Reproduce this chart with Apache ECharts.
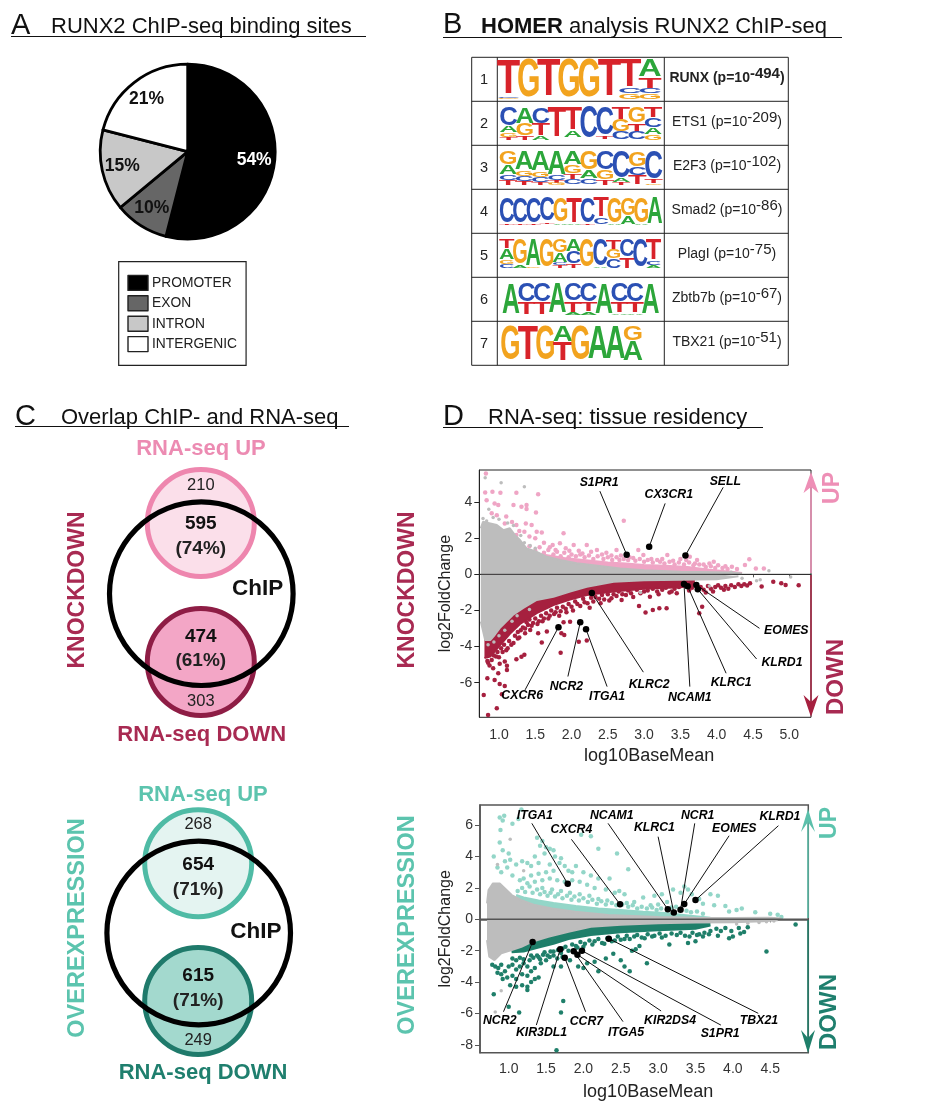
<!DOCTYPE html>
<html><head><meta charset="utf-8">
<style>html,body{margin:0;padding:0;background:#fff}#c{width:927px;height:1109px}</style>
<script src="https://cdn.jsdelivr.net/npm/echarts@6/dist/echarts.min.js"></script>
</head><body><div id="c"></div>
<script>
// ---------- Panel A ----------
const regionNames = ['PROMOTER','EXON','INTRON','INTERGENIC'];
const regionValues = [54,10,15,21];
// ---------- Panel B ----------
const motifFactors = ['RUNX','ETS1','E2F3','Smad2','PlagI','Zbtb7b','TBX21'];
const motifExponents = ['-494','-209','-102','-86','-75','-67','-51'];
const motifs = [
 ['T92 C4 G4','G100','T98','G100','G100','T98','T72 C14 G14','A45 T28 C12 G15'],
 ['C58 A20 G14 T8','A52 G36 T12','C52 T36 A12','T96','T72 A22','C100','C90 T8','T38 G38 C24','G50 T26 C24','T32 C30 A22 G16'],
 ['G40 A30 C16 T14','A58 G16 C14 T12','A62 G16 C14 T8','A72 C14 T8 G6','A42 G26 T16 C16','G56 A26 C18','C56 G30 T14','C82 A10 T8','G46 C26 T28','C86 T10 G4'],
 ['C97 T3','C97 T3','C97 T3','C90 T6','G94 A6','T96 A4','C97 T3','T74 C26','G96 A4','G68 A32','G97 A3','A100'],
 ['T32 A38 G15 C15','G90 A10','A94 G6','G100','G48 A32 C10 T10','A44 C40 T16','G98','C94 A6','T34 G32 C34','C62 T38','C100','T74 C16 A10'],
 ['A100','C62 T38','C62 T38','A98','C56 T36 A8','C60 T30 A10','A100','C60 T34 A6','C60 T34 A6','A100'],
 ['G100','T100','G100','A46 T54','G100','A98','A98','G42 A58']
];
// ---------- Panel C ----------
const knockdownVenn = ['210','595','(74%)','474','(61%)','303'];
const overexpVenn = ['268','654','(71%)','615','(71%)','249'];
// ---------- Panel D, knockdown ----------
const kdGenes = ['S1PR1','CX3CR1','SELL','CXCR6','NCR2','ITGA1','KLRC2','NCAM1','KLRC1','KLRD1','EOMES'];
const kdGeneX = [2.76,3.07,3.57,1.82,2.12,2.20,2.28,3.55,3.60,3.74,3.72];
const kdGeneY = [1.09,1.53,1.05,-2.93,-2.66,-3.04,-1.03,-0.54,-0.66,-0.83,-0.59];
const kdGrayTop = [[.75,2.55],[.78,2.91],[.88,2.82],[.97,2.73],[1.06,2.45],[1.15,2.55],[1.22,2.17],[1.29,1.9],[1.38,1.44],[1.52,1.25],[1.66,.97],[1.84,.79],[2.07,.61],[2.3,.51],[2.67,.33],[3,.22],[3.5,.15],[4,.12],[4.2,.1],[4.35,.05]];
const kdGrayBottom = [[.75,-2.62],[.81,-3.64],[.88,-3.64],[.94,-3.36],[1.01,-2.98],[1.1,-2.62],[1.19,-2.25],[1.33,-1.87],[1.52,-1.42],[1.75,-1.24],[1.98,-.96],[2.21,-.69],[2.58,-.41],[3,-.33],[3.5,-.3],[4,-.27],[4.3,-.1]];
const kdPinkTop = [[1.4,1.3],[1.6,1.1],[1.9,.9],[2.2,.78],[2.5,.66],[2.75,.6],[3,.52],[3.3,.48],[3.6,.4],[3.9,.26],[4.2,.15],[4.35,.08]];
const kdRedBottom = [[.8,-4.64],[.88,-4.56],[1.01,-3.95],[1.15,-3.3],[1.29,-2.75],[1.52,-2.15],[1.75,-1.7],[1.98,-1.4],[2.21,-1.15],[2.58,-.95],[3,-.8],[3.5,-.72],[3.7,-.6]];
const kdPinkPts = [[.82,5.59],[.91,4.58],[.81,4.54],[1.02,4.52],[1.24,4.52],[1.54,4.43],[.94,3.93],[.99,3.84],[.83,4.11],[1.2,3.84],[1.31,3.75],[1.38,3.84],[1.38,3.62],[1.51,3.43],[.97,3.28],[.9,3.38],[1.08,2.82],[1.24,2.73],[1.37,2.82],[1.45,2.73],[1.52,2.36],[1.59,2.32],[1.89,2.27],[1.35,2.36],[1.24,2.18],[2.72,2.97],[1.74,1.62],[1.84,1.72],[2.03,1.62],[2.21,1.62],[2.35,1.35],[2.62,1.35],[2.92,1.35],[2.99,1.07],[3.32,1.07],[3.63,.98],[3.73,.79],[3.96,.7],[4.45,.83],[4.39,.52],[4.54,.33],[4.65,.33],[4.21,.42],[1.1,3.2],[1.18,2.9],[1.28,2.4],[1.42,2.1],[1.5,2],[1.62,1.75],[1.7,1.5],[1.78,1.35],[1.92,1.45],[1.97,1.3],[2.1,1.3],[2.15,1.15],[2.27,1.25],[2.42,1.1],[2.48,1.2],[2.55,1.05],[2.68,1.05],[2.8,.95],[2.85,.9],[3.1,.85],[3.18,.8],[3.25,.85],[3.4,.75],[3.5,.85],[3.58,.8],[3.7,.6],[3.82,.55],[3.9,.6],[4.02,.5],[4.12,.45],[4.28,.3],
 [1.42,1.55],[1.5,1.3],[1.56,1.5],[1.62,1.2],[1.68,1.35],[1.75,1.1],[1.8,1.25],[1.85,1],[1.9,1.2],[1.96,.95],[2,1.1],[2.06,1],[2.12,1.1],[2.18,.95],[2.24,1.05],[2.3,.85],[2.36,1],[2.44,.85],[2.5,.95],[2.56,.8],[2.62,.95],[2.66,.8],[2.72,.85],[2.78,.8],[2.88,.75],[2.94,.85],[3,.7],[3.05,.8],[3.12,.65],[3.22,.7],[3.28,.6],[3.35,.7],[3.42,.55],[3.48,.65],[3.55,.55],[3.62,.65],[3.68,.5],[3.76,.55],[3.85,.4],[3.92,.45],[3.98,.35],[4.08,.35],[4.15,.3]];
const kdRedPts = [[.79,-6.68],[.85,-7.79],[.97,-7.42],[1.04,-6.64],[1.08,-6.18],[1.01,-6.07],[.94,-5.85],[.84,-5.76],[.99,-5.48],[1.11,-5.3],[1.11,-5.07],[1.08,-4.83],[1.01,-4.96],[.92,-5.2],[1.24,-4.7],[1.35,-4.46],[1.31,-4.56],[1.85,-4.34],[1.59,-3.78],[1.66,-3.17],[1.86,-3.27],[1.9,-3.36],[2.1,-3.73],[2.21,-3.67],[1.54,-3.27],[1.36,-3.27],[1.43,-3.08],[1.98,-2.62],[1.89,-2.66],[2.93,-1.75],[3.02,-2.12],[3.12,-1.97],[3.21,-1.88],[3.31,-1.88],[3.8,-1.79],[3.76,-2.16],[2.69,-1.42],[2.55,-1.33],[3.08,-1.24],[4.62,-.68],[4.78,-.41],[4.89,-.5],[5.13,-.61],[4.95,-.59],[.85,-4.9],[.9,-4.75],[.96,-4.55],[1.05,-4.3],[1.12,-4.1],[1.2,-3.8],[1.26,-3.55],[1.3,-3.1],[1.4,-2.8],[1.47,-2.7],[1.55,-2.6],[1.62,-2.45],[1.7,-2.3],[1.78,-2.1],[1.85,-2.05],[1.92,-1.9],[2,-1.8],[2.08,-1.65],[2.18,-1.55],[2.25,-1.85],[2.3,-1.5],[2.38,-1.35],[2.45,-1.4],[2.62,-1.2],[2.75,-1.15],[2.85,-1.25],[2.95,-1.05],[3.2,-1.1],[3.35,-1],[3.45,-1.05],[3.85,-1],[3.95,-.95],[4.1,-.85],
 [.84,-4.8],[.87,-5.05],[.93,-4.5],[.98,-4.3],[1,-4.6],[1.03,-4.1],[1.07,-3.9],[1.1,-4.2],[1.14,-3.7],[1.17,-3.9],[1.22,-3.4],[1.26,-3.2],[1.28,-3.5],[1.33,-2.95],[1.36,-3],[1.38,-2.65],[1.42,-2.5],[1.45,-2.85],[1.5,-2.45],[1.53,-2.75],[1.58,-2.3],[1.6,-2.6],[1.65,-2.15],[1.68,-2.45],[1.72,-2],[1.76,-2.2],[1.8,-1.85],[1.83,-2.3],[1.88,-1.8],[1.93,-2.1],[1.96,-1.65],[2.02,-2],[2.05,-1.5],[2.12,-1.75],[2.16,-1.35],[2.22,-1.6],[2.27,-1.3],[2.33,-1.25],[2.4,-1.6],[2.42,-1.15],[2.5,-1.1],[2.52,-1.45],[2.58,-1.1],[2.65,-.95],[2.7,-1.1],[2.78,-.9],[2.82,-1.05],[2.9,-.85],[3,-.95],[3.05,-.9],[3.12,-.8],[3.18,-.95],[3.25,-.85],[3.3,-.75],[3.38,-.95],[3.42,-.8],[3.48,-.7],[3.62,-.9],[3.66,-.75],[3.78,-.7],[3.82,-.85],[3.88,-.65],[3.92,-.8],[3.98,-.7],[4.02,-.6],[4.06,-.75],[4.12,-.65],[4.16,-.8],[4.2,-.6],[4.25,-.7],[4.3,-.55],[4.34,-.65],[4.38,-.55],[4.42,-.62],[4.46,-.5]];
const kdGrayPts = [[.81,5.35],[1.03,5.07],[1.35,4.85],[.86,3.6],[.92,3.15],[1,3.05],[1.12,2.85],[1.2,2.7],[.78,3.1],[.83,2.95],[1.3,2.15],[1.35,1.75],[1.43,1.6],[1.5,1.45],[.85,-3.9],[.93,-3.75],[1,-3.4],[1.08,-3.1],[1.18,-2.6],[1.25,-2.3],[1.42,-1.95],[4.6,-.3],[4.72,.2],[5.02,-.15],[4.55,-.35],[4.35,-.22],[4.2,.12],[3.9,-.65],[2.95,-1]];
// ---------- Panel D, overexpression ----------
const oeGenes = ['ITGA1','CXCR4','NCAM1','KLRC1','NCR1','EOMES','KLRD1','NCR2','KIR3DL1','CCR7','ITGA5','KIR2DS4','S1PR1','TBX21'];
const oeGeneX = [1.79,2.49,3.13,3.21,3.3,3.35,3.5,1.32,1.69,1.75,1.87,1.92,1.98,2.34];
const oeGeneY = [2.27,.96,.64,.43,.62,.98,1.23,-1.45,-1.91,-2.44,-2.04,-2.25,-2,-1.23];
const oeGrayTop = [[.71,1.02],[.73,1.87],[.79,2.29],[.88,2.29],[.95,1.97],[1.04,1.55],[1.17,1.23],[1.35,.91],[1.58,.7],[1.89,.49],[2.33,.28],[3,.15],[3.5,.1],[4,.08],[4.5,.1],[4.65,.05]];
const oeGrayBottom = [[.71,-1.32],[.74,-2.38],[.81,-2.6],[.9,-2.16],[1.04,-1.96],[1.17,-1.75],[1.31,-1.43],[1.53,-1.11],[1.8,-.79],[2.1,-.47],[2.5,-.35],[3,-.25],[3.5,-.2],[4,-.18],[4.4,-.12],[4.6,-.05]];
const oeTealTop = [[1.1,1.55],[1.2,1.4],[1.4,1.2],[1.6,1.05],[1.9,.85],[2.2,.7],[2.5,.6],[2.8,.48],[3.1,.4],[3.4,.25],[3.7,.1]];
const oeGreenBottom = [[1.04,-2.1],[1.2,-2.05],[1.4,-1.8],[1.6,-1.55],[1.8,-1.25],[2.1,-1],[2.5,-.82],[3,-.7],[3.5,-.6],[3.7,-.4]];
const oeTealPts = [[.88,6.5],[.94,6.6],[.92,6.3],[.89,5.7],[1.13,6.4],[1.17,7],[1.05,6.1],[.88,4.9],[.92,4.4],[.8,4],[1,4.2],[1.02,3.8],[.95,3.7],[.85,3.3],[.9,3],[.98,3.3],[1.05,2.8],[1.1,3.5],[1.18,3.7],[1.25,3.6],[1.3,3.4],[1.38,5.2],[1.45,5],[1.42,4.7],[1.5,4.6],[1.55,4.5],[1.6,4.4],[1.48,4.2],[1.62,4],[1.7,3.9],[1.35,4],[1.4,3.6],[1.55,3.5],[1.68,3.6],[1.75,3.4],[1.8,3.1],[1.6,3.1],[1.5,3],[1.4,2.9],[1.3,2.8],[1.2,2.6],[1.15,2.5],[1.25,2.3],[1.35,2.4],[1.45,2.5],[1.55,2.6],[1.65,2.5],[1.75,2.4],[1.85,2.5],[1.95,2.4],[2.05,2.2],[2.15,2],[2.3,1.9],[2.42,1.7],[2.48,1.8],[2.55,1.6],[2.45,4.2],[2.2,4.5],[2.1,5.3],[1.97,5.4],[2.6,3.2],[2.35,2.6],[2.2,2.6],[2,3],[1.9,3.4],[1.85,3],[2.1,2.8],[2.8,1.4],[2.95,1.5],[3.05,1.6],[3.2,1.9],[3.35,2.1],[3.4,1.9],[3.3,1.7],[3.45,1.6],[3.55,1.3],[3.7,1.6],[3.8,1.5],[3.6,1],[3.75,.9],[3.9,.85],[4.05,.6],[4.12,.7],[3.95,.5],[4.3,.45],[4.5,.35],[4.6,.3],[4.65,.15],[1.45,2],[1.58,1.9],[1.7,1.8],[1.82,1.7],[1.95,1.6],[2.08,1.5],[2.2,1.3],[2.32,1.2],[2.58,1.05],[2.68,1.1],[2.9,.9],[3,.95],[3.12,1.1],
 [1.12,1.8],[1.18,2],[1.22,1.75],[1.28,2.1],[1.32,1.7],[1.38,1.9],[1.42,1.6],[1.48,1.75],[1.52,1.5],[1.56,1.7],[1.62,1.45],[1.66,1.6],[1.72,1.35],[1.78,1.5],[1.84,1.25],[1.88,1.45],[1.94,1.2],[2,1.35],[2.06,1.1],[2.12,1.25],[2.18,1],[2.24,1.15],[2.3,.95],[2.38,1.05],[2.44,.9],[2.52,.95],[2.6,.8],[2.66,.9],[2.72,.7],[2.78,.8],[2.85,.7],[2.92,.75],[2.98,.6],[3.04,.7],[3.18,.75],[3.24,.8],[3.38,.55],[3.44,.45],[3.52,.5],[3.6,.35]];
const oeGreenPts = [[.78,-2.9],[.82,-3],[.86,-3.1],[.9,-2.9],[.85,-3.4],[.9,-3.5],[.95,-3.3],[1,-3],[1.05,-2.9],[1.1,-3.2],[1.15,-3],[1.2,-2.8],[1.25,-3],[.92,-3.8],[.98,-3.7],[1.05,-3.6],[1.1,-3.8],[1.18,-3.5],[1.25,-3.6],[1.3,-3.3],[1.35,-3.1],[1.02,-4.2],[1.1,-4.3],[1.18,-4.2],[1.25,-4.3],[1.3,-4],[1.35,-3.8],[1.4,-3.7],[.8,-4.78],[1.25,-4.5],[1.43,-2.8],[1.5,-2.6],[1.55,-2.4],[1.6,-3],[1.7,-3],[1.65,-2.5],[1.72,-2.4],[1.82,-2.6],[1.93,-3],[2,-3.1],[2.05,-2.8],[2.2,-3.3],[2.15,-2.7],[2.3,-2.5],[2.4,-2.2],[2.5,-2.6],[2.55,-3],[2.62,-3.3],[2.65,-2],[2.7,-1.9],[2.85,-2.8],[2.75,-1.7],[3.15,-1.6],[3.4,-1.5],[3.5,-1.4],[3.6,-1.1],[3.8,-1.05],[3.95,-1.2],[4,-1.1],[4.1,-.9],[4.15,-.8],[4.45,-2.05],[4.84,-.32],[1,-5.57],[1.14,-5.93],[1.73,-5.2],[1.7,-5.93],[1.64,-8.35],[1.3,-2.3],[1.4,-2.4],[1.48,-2.1],[1.6,-2.05],[1.72,-1.85],[1.9,-1.7],[2.02,-1.55],[2.15,-1.4],[2.28,-1.55],[2.42,-1.35],[2.55,-1.25],[2.68,-1.1],[2.82,-1.2],[2.95,-1.05],[3.05,-1.15],[3.25,-1],[3.42,-1.1],[3.55,-.95],[3.7,-.75],
 [1.05,-2.5],[1.1,-2.6],[1.15,-2.45],[1.2,-2.55],[1.28,-2.6],[1.33,-2.45],[1.38,-2.3],[1.42,-2.55],[1.46,-2.25],[1.52,-2.3],[1.56,-2.05],[1.6,-2.3],[1.66,-1.95],[1.7,-2.15],[1.76,-1.75],[1.8,-2],[1.85,-1.6],[1.92,-1.8],[1.96,-1.45],[2,-1.75],[2.08,-1.35],[2.12,-1.6],[2.2,-1.25],[2.25,-1.5],[2.32,-1.2],[2.38,-1.4],[2.46,-1.1],[2.5,-1.3],[2.58,-1.05],[2.62,-1.25],[2.72,-1],[2.78,-1.15],[2.86,-.95],[2.92,-1.1],[3.02,-.9],[3.1,-1.05],[3.18,-.9],[3.3,-.85],[3.36,-1.05],[3.46,-.85],[3.52,-1],[3.62,-.85],[3.68,-.95],[3.78,-.6],[3.84,-.75],[3.9,-.55],[3.98,-.75],[4.08,-.55],[4.2,-.5]];
const oeGrayPts = [[.82,-5.9],[.9,-4.55],[1.02,5.1],[.85,3.5],[1.2,3.1],[4.35,-.2],[4.45,-.15],[4.55,-.1],[4.2,-.25],[4.05,-.3]];
// Tick labels
const kdXTicks = [1,1.5,2,2.5,3,3.5,4,4.5,5];
const kdYTicks = [-6,-4,-2,0,2,4];
const oeXTicks = [1,1.5,2,2.5,3,3.5,4,4.5];
const oeYTicks = [-8,-6,-4,-2,0,2,4,6];

// ---------- Layout and annotation anchors (label x,y then leader end x,y, data units) ----------
const kdAnchors = [[2.38,5.09,2.39,4.61],[3.34,4.39,3.29,3.93],[4.12,5.13,4.09,4.82],[1.32,-6.72,1.36,-6.4],[1.93,-6.22,1.95,-5.66],[2.49,-6.77,2.49,-6.22],[3.07,-6.09,2.99,-5.42],[3.63,-6.81,3.63,-6.22],[4.2,-6,4.13,-5.48],[4.9,-4.87,4.55,-4.69],[4.96,-3.12,4.59,-2.99]];
const oeAnchors = [[1.35,6.61,1.31,6.12],[1.84,5.7,1.84,5.1],[2.38,6.61,2.33,6.12],[2.95,5.84,3,5.27],[3.53,6.61,3.49,6.12],[4.02,5.8,3.95,5.33],[4.63,6.52,4.61,5.97],[.88,-6.46,.93,-5.89],[1.44,-7.23,1.37,-6.74],[2.04,-6.52,2.03,-5.89],[2.57,-7.2,2.53,-6.52],[3.16,-6.46,3.04,-5.84],[3.83,-7.31,3.84,-6.74],[4.35,-6.46,4.34,-5.99]];
const FF = '"Liberation Sans", Arial, sans-serif';
const C = {pinkPt:'#EFA5C5',red:'#A6203F',teal:'#93D6C8',green:'#1F7F6A',gray:'#BDBDBD'};
const G1 = {left:479.3,right:811,top:470,bottom:717.3}, G2 = {left:480,right:808.3,top:805,bottom:1052.7};
const W = 927, H = 1109;
const gridOf = (g,col,w) => ({left:g.left,top:g.top,width:g.right-g.left,height:g.bottom-g.top,show:true,borderColor:col,borderWidth:w,backgroundColor:'transparent'});
const xAxisOf = (i,min,max,ticks,col,w,margin) => ({gridIndex:i,type:'value',min,max,splitLine:{show:false},
  axisLine:{lineStyle:{color:col,width:w}},axisTick:{show:true,length:3,customValues:ticks,lineStyle:{color:'#555'}},
  axisLabel:{customValues:ticks,formatter:v=>v.toFixed(1),fontFamily:FF,fontSize:14,color:'#333',margin},
  name:'log10BaseMean',nameLocation:'middle',nameGap:30,nameTextStyle:{fontFamily:FF,fontSize:18,color:'#222',padding:[0,0,0,8]}});
const yAxisOf = (i,min,max,ticks,col,w) => ({gridIndex:i,type:'value',min,max,splitLine:{show:false},
  axisLine:{lineStyle:{color:col,width:w}},axisTick:{show:true,length:5,customValues:ticks,lineStyle:{color:col}},
  axisLabel:{customValues:ticks,fontFamily:FF,fontSize:14,color:'#333',margin:7},
  name:'log2FoldChange',nameLocation:'middle',nameGap:26,nameTextStyle:{fontFamily:FF,fontSize:16,color:'#222'}});
const area = (i,data,color,z) => ({type:'line',xAxisIndex:i,yAxisIndex:i,data,symbol:'none',z,silent:true,
  lineStyle:{color,width:2},areaStyle:{color,opacity:1}});
const pts = (i,data,color,size,z) => ({type:'scatter',xAxisIndex:i,yAxisIndex:i,data,symbolSize:size,z,silent:true,itemStyle:{color,opacity:1}});
const zip = (a,b) => a.map((v,k)=>[v,b[k]]);
function zero(i,min,max,col,w){return {type:'line',xAxisIndex:i,yAxisIndex:i,data:[[min,0],[max,0]],symbol:'none',z:9,silent:true,lineStyle:{color:col,width:w}};}
function genes(i,names,xs,ys,anch){
  return [{type:'scatter',xAxisIndex:i,yAxisIndex:i,data:zip(xs,ys),symbolSize:6.5,z:12,silent:true,itemStyle:{color:'#000',opacity:1},
    markLine:{silent:true,symbol:'none',animation:false,label:{show:false},lineStyle:{color:'#111',width:1,type:'solid',opacity:1},
      data:xs.map((x,k)=>[{coord:[x,ys[k]]},{coord:[anch[k][2],anch[k][3]]}])}},
   {type:'scatter',xAxisIndex:i,yAxisIndex:i,symbolSize:0,z:13,silent:true,
    data:names.map((n,k)=>({name:n,value:[anch[k][0],anch[k][1]]})),
    label:{show:true,position:'inside',formatter:p=>p.name,fontFamily:FF,fontWeight:'bold',fontStyle:'italic',fontSize:12.3,color:'#000',opacity:1},
    itemStyle:{opacity:1}}];
}
// Sequence logo drawn by a custom series
const ADV = {A:.722,C:.722,G:.778,T:.611};
const LETTER = {A:'#2CA63A',C:'#2B50B4',G:'#F2A31E',T:'#D8232A'};
const logoSpan = [[.006,.974,.06,.955],[.02,.98,.14,.88],[.016,.984,.14,.90],[.016,.984,.20,.81],[.016,.976,.14,.80],[.036,.964,.14,.86],[.026,.864,.12,.92]];
const logoRows = [];
motifs.forEach((m,r)=>{m.forEach((stack,p)=>{let acc=0;stack.split(' ').forEach(s=>{const f=+s.slice(1)/100;
  logoRows.push([r,p,m.length,acc,acc+f,s[0]]);acc+=f;});
  });});
const logoSeries = {type:'custom',xAxisIndex:2,yAxisIndex:2,data:logoRows,silent:true,z:5,clip:false,
  encode:{x:1,y:0},
  renderItem(params,api){
    const r=api.value(0),p=api.value(1),n=api.value(2),a=api.value(3),b=api.value(4),l=logoRows[params.dataIndex][5];
    const s=logoSpan[r],w=(s[1]-s[0])/n,cx=s[0]+w*(p+.5);
    const y1=r+s[2]+(s[3]-s[2])*a,y2=r+s[2]+(s[3]-s[2])*b;
    const c1=api.coord([cx,y1]),c2=api.coord([cx,y2]),c3=api.coord([cx+w,y1]);
    const F=100,hpx=c2[1]-c1[1],wpx=c3[0]-c1[0];
    return {type:'text',x:c1[0],y:(c1[1]+c2[1])/2+hpx*.045,scaleX:wpx*1.16/(ADV[l]*F),scaleY:hpx/(0.74*F),
      style:{text:l,fontFamily:FF,fontWeight:'bold',fontSize:F,fill:LETTER[l],align:'center',verticalAlign:'middle'}};
  }};

// ---------- Graphic helpers ----------
const gfx=[];
function T(text,x,y,size,o={}){gfx.push({type:'text',x,y,rotation:o.rot||0,z:o.z||20,silent:true,
  style:{text,fontFamily:FF,fontSize:size,fontWeight:o.w||'normal',fill:o.c||'#111',align:o.a||'center',verticalAlign:'middle',rich:o.rich}});}
function L(x1,y1,x2,y2,c='#111',w=1,z=3){gfx.push({type:'line',z,silent:true,shape:{x1,y1,x2,y2},style:{stroke:c,lineWidth:w}});}
function circ(cx,cy,r,stroke,fill,w,z){gfx.push({type:'circle',z,silent:true,shape:{cx,cy,r},style:{stroke,fill,lineWidth:w}});}
function head(x,tip,base,notch,hw,c){gfx.push({type:'polygon',z:6,silent:true,shape:{points:[[x,tip],[x+hw,base],[x,notch],[x-hw,base]]},style:{fill:c}});}
// Titles
const TS=22;
T('A',11,26,29,{a:'left'}); T('RUNX2 ChIP-seq binding sites',51,27,TS,{a:'left'}); L(11,36.5,366,36.5);
T('B',443,25,29,{a:'left'});
T('{b|HOMER}{r| analysis RUNX2 ChIP-seq}',481,27,TS,{a:'left',rich:{b:{fontFamily:FF,fontSize:TS,fontWeight:'bold',fill:'#111'},r:{fontFamily:FF,fontSize:TS,fill:'#111'}}}); L(443,37.5,842,37.5);
T('C',15,417,29,{a:'left'}); T('Overlap ChIP- and RNA-seq',61,418,TS,{a:'left'}); L(15,426.5,349,426.5);
T('D',443,417,29,{a:'left'}); T('RNA-seq: tissue residency',488,418,TS,{a:'left'}); L(443,427.5,763,427.5);
// Table
const tx=[471.7,497.3,664.3,788.3],ty0=57.3,rh=44,rows=motifFactors.length;
tx.forEach(x=>L(x,ty0,x,ty0+rh*rows,'#222',1,4));
for(let i=0;i<=rows;i++)L(tx[0],ty0+rh*i,tx[3],ty0+rh*i,'#222',1,4);
motifFactors.forEach((f,i)=>{
  const y=ty0+rh*(i+.5);
  T(String(i+1),484,y+1,14.5,{c:'#222'});
  const b=i===0;
  const st={fontFamily:FF,fontSize:14,fontWeight:b?'bold':'normal',fill:'#222'};
  const sup={fontFamily:FF,fontSize:15,fontWeight:b?'bold':'normal',fill:'#222',padding:[0,0,9,0]};
  T(`{a|${f} (p=10}{s|${motifExponents[i]}}{a|)}`,727,y-1,14,{rich:{a:st,s:sup}});
});
// Venns
function venn(v,cx,cyU,cyC,cyD,chipX,ts,colU,fillU,colD,fillD,colUt,colDt,tU,tD){
  circ(cx,cyU,53.5,colU,fillU,5,4); circ(cx,cyD,53.5,colD,fillD,5,4); circ(cx+.5,cyC,91.8,'#000',null,5.2,6);
  T('RNA-seq UP',tU[0],tU[1],22,{w:'bold',c:colUt}); T('RNA-seq DOWN',tD[0],tD[1],22,{w:'bold',c:colDt});
  T(v[0],cx,ts[0],16.5,{c:'#222'}); T(v[1],cx,ts[1],19,{w:'bold',c:'#111'}); T(v[2],cx,ts[2],19,{w:'bold',c:'#222'});
  T(v[3],cx,ts[3],19,{w:'bold',c:'#111'}); T(v[4],cx,ts[4],19,{w:'bold',c:'#222'}); T(v[5],cx,ts[5],16.5,{c:'#222'});
  T('ChIP',chipX,ts[6],22.5,{w:'bold',c:'#111'});
}
venn(knockdownVenn,200.8,523,593.7,662,257.7,[485.7,524,549,636.7,661,701,589],'#EE86AE','#FBDFEA','#8E1D45','#F3A6C6','#EC8BB2','#A82A52',[201,449],[201.7,735]);
venn(overexpVenn,198.2,863.2,933,1001,256,[824,865,890,975.7,1000.7,1040,932],'#4FBBA5','#E4F4F1','#1F7A6B','#A3D9CE','#5CC4AE','#1F7F6E',[203,795],[203,1073]);
const R90=Math.PI/2;
T('KNOCKDOWN',78,590,23,{w:'bold',c:'#A82A52',rot:R90});
T('OVEREXPRESSION',78,928,23.5,{w:'bold',c:'#5CC4AE',rot:R90});
T('KNOCKDOWN',408,590,23,{w:'bold',c:'#A82A52',rot:R90});
T('OVEREXPRESSION',408,925,23.5,{w:'bold',c:'#5CC4AE',rot:R90});
// Arrows at the right of D panels
L(811,485,811,573,'#EE8FB6',1.5,6); head(811,472,493,487,7.5,'#EE8FB6');
L(811,575,811,705,'#A6203F',1.5,6); head(811,717,695,702,7.5,'#A6203F');
T('UP',833,488,23,{w:'bold',c:'#EE8FB6',rot:R90}); T('DOWN',836,677,24,{w:'bold',c:'#A82A52',rot:R90});
L(808,820,808,918,'#5BC0AB',1.5,6); head(808,809,832,822,7,'#5BC0AB');
L(808,920,808,1040,'#1F7F6A',1.5,6); head(808,1053,1030,1038,7,'#1F7F6A');
T('UP',830,823,23,{w:'bold',c:'#5CC4AE',rot:R90}); T('DOWN',829,1012,24,{w:'bold',c:'#1F7F6E',rot:R90});

const pieData = regionNames.map((n,i)=>({name:n,value:regionValues[i],itemStyle:{color:['#000','#666','#C8C8C8','#fff'][i]}}));
const option = {
  animation:false,backgroundColor:'#fff',
  graphic:{elements:gfx},
  legend:{left:118.7,top:261.7,orient:'vertical',data:regionNames,icon:'rect',itemWidth:20,itemHeight:15,itemGap:4,
    padding:[13,9,13,8.6],borderColor:'#222',borderWidth:1.2,selectedMode:false,itemStyle:{borderWidth:1.4,borderColor:'#222'},
    textStyle:{fontFamily:FF,fontSize:13.8,color:'#222',padding:[0,0,0,-1]}},
  grid:[gridOf(G1,'#222',1),gridOf(G2,'#555',1.5),{left:497.3,top:57.3,width:167,height:308,show:false}],
  xAxis:[xAxisOf(0,.729,5.3,kdXTicks,'#222',1,11),xAxisOf(1,.616,5.01,oeXTicks,'#555',1.5,9),{gridIndex:2,type:'value',min:0,max:1,show:false}],
  yAxis:[yAxisOf(0,-7.92,5.78,kdYTicks,'#222',1),yAxisOf(1,-8.5,7.29,oeYTicks,'#555',1.5),{gridIndex:2,type:'value',min:0,max:7,inverse:true,show:false}],
  series:[
    {type:'pie',center:[187.7,151.7],radius:[0,87.5],startAngle:90,clockwise:true,data:pieData,silent:true,
      itemStyle:{borderColor:'#000',borderWidth:2.8},label:{show:false},labelLine:{show:false},z:2},
    {type:'pie',center:[187.7,151.7],radius:[44,84],startAngle:90,clockwise:true,silent:true,legendHoverLink:false,
      data:regionNames.map((n,i)=>({name:n+' ',value:regionValues[i],itemStyle:{color:'transparent'},
        label:{color:i===0?'#fff':'#111'}})),
      label:{show:true,position:'inside',formatter:p=>p.value+'%',fontFamily:FF,fontWeight:'bold',fontSize:17.5},labelLine:{show:false},z:3},
    pts(0,kdPinkPts,C.pinkPt,4.5,2),
    area(0,kdPinkTop,C.pinkPt,3),
    pts(0,kdRedPts,C.red,4.5,2),
    area(0,kdRedBottom,C.red,3),
    area(0,kdGrayTop,C.gray,4),
    area(0,kdGrayBottom,C.gray,4),
    pts(0,kdGrayPts,C.gray,3.5,5),
    zero(0,.729,5.3,'#333',1),
    ...genes(0,kdGenes,kdGeneX,kdGeneY,kdAnchors),
    pts(1,oeTealPts,C.teal,4.5,2),
    area(1,oeTealTop,C.teal,3),
    pts(1,oeGreenPts,C.green,4.5,2),
    area(1,oeGreenBottom,C.green,3),
    area(1,oeGrayTop,C.gray,4),
    area(1,oeGrayBottom,C.gray,4),
    pts(1,oeGrayPts,C.gray,3.5,5),
    zero(1,.616,5.01,'#555',1.5),
    ...genes(1,oeGenes,oeGeneX,oeGeneY,oeAnchors),
    logoSeries
  ]
};
echarts.init(document.getElementById('c'),null,{renderer:'canvas',width:W,height:H}).setOption(option);
</script></body></html>
